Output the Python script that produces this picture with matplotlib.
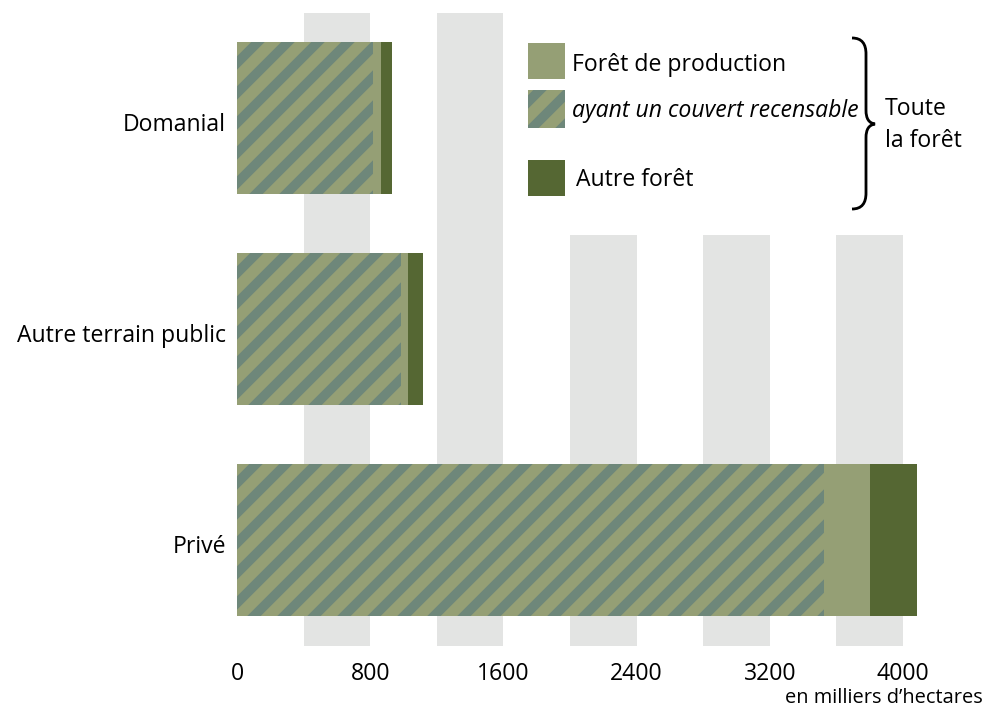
import matplotlib
matplotlib.use("Agg")
import matplotlib.pyplot as plt
from matplotlib.patches import Rectangle, PathPatch
from matplotlib.path import Path
from matplotlib import font_manager
import matplotlib.transforms as mtransforms

# ---------------- data ----------------
categories = ["Domanial", "Autre terrain public", "Privé"]
total_forest = [931, 1117, 4084]        # toute la forêt (incl. autre forêt)
production_forest = [865, 1027, 3802]   # forêt de production
recensable = [817, 985, 3526]           # ayant un couvert recensable
tick_values = [0, 800, 1600, 2400, 3200, 4000]
tick_labels = ["0", "800", "1600", "2400", "3200", "4000"]
band_starts = [400, 1200, 2000, 2800, 3600]
band_width = 400
legend_labels = ["Forêt de production", "ayant un couvert recensable", "Autre forêt"]
brace_label = "Toute\nla forêt"
unit_label = "en milliers d\u2019hectares"

# ---------------- style ----------------
W, H, DPI = 986, 707, 180
C_LIGHT = "#959f75"
C_STRIPE = "#6e877a"
C_DARK = "#556733"
C_GRAY = "#e3e4e3"

avail = {f.name for f in font_manager.fontManager.ttflist}
family = "Open Sans" if "Open Sans" in avail else "DejaVu Sans"
plt.rcParams["font.family"] = [family, "DejaVu Sans"]
plt.rcParams["hatch.linewidth"] = 3.8

def px2pt(px):
    return px * 72.0 / DPI

FS = px2pt(23)
HATCH = "//"

fig = plt.figure(figsize=(W / DPI, H / DPI), dpi=DPI)
ax_left, ax_right = 237, 237 + 4400 * 666 / 4000
ax_top, ax_bot = 12.5, 645.5
ax = fig.add_axes([ax_left / W, 1 - ax_bot / H, (ax_right - ax_left) / W, (ax_bot - ax_top) / H])
ax.set_xlim(0, 4400)
ax.set_ylim(2.5, -0.5)
for s in ax.spines.values():
    s.set_visible(False)

# gray bands
band_top_frac = [1.0, 1.0, 0.6485, 0.6485, 0.6485]
for x0, yt in zip(band_starts, band_top_frac):
    ax.axvspan(x0, x0 + band_width, ymin=0, ymax=yt, color=C_GRAY, lw=0, zorder=0)

ypos = list(range(len(categories)))
bh = 0.72
ax.barh(ypos, total_forest, height=bh, color=C_DARK, lw=0, zorder=2)
ax.barh(ypos, production_forest, height=bh, color=C_LIGHT, lw=0, zorder=3, left=[2, 2, 2])
ax.barh(ypos, recensable, height=bh, left=[2, 2, 2], facecolor=C_LIGHT, edgecolor=C_STRIPE,
        hatch=HATCH, lw=0, zorder=4)

ax.set_yticks(ypos)
ax.set_yticklabels(categories, fontsize=FS)
ax.set_xticks(tick_values)
ax.set_xticklabels(tick_labels, fontsize=FS)
ax.tick_params(axis="y", length=0, pad=px2pt(11))
ax.tick_params(axis="x", length=0, pad=px2pt(17))
shift = mtransforms.ScaledTranslation(0, -4 / DPI, fig.dpi_scale_trans)
for lab in ax.get_yticklabels():
    lab.set_transform(lab.get_transform() + shift)

fig.text(983 / W, 1 - 698 / H, unit_label, fontsize=px2pt(20), ha="right", va="center")

# legend (manual)
def frect(x, y, w, h, **kw):
    r = Rectangle((x / W, 1 - (y + h) / H), w / W, h / H, transform=fig.transFigure, **kw)
    fig.patches.append(r)

frect(528, 43, 37, 36, facecolor=C_LIGHT, lw=0)
frect(528, 90, 37, 38, facecolor=C_LIGHT, edgecolor=C_STRIPE, hatch=HATCH, lw=0)
frect(528, 160, 37, 36, facecolor=C_DARK, lw=0)
fig.text(572 / W, 1 - 65 / H, legend_labels[0], fontsize=FS, va="center")
fig.text(572 / W, 1 - 111 / H, legend_labels[1], fontsize=FS, va="center", style="italic")
fig.text(576 / W, 1 - 180 / H, legend_labels[2], fontsize=FS, va="center")
fig.text(885 / W, 1 - 125 / H, brace_label, fontsize=FS, va="center", linespacing=1.45)

# brace
pts = [(852, 38), (862, 38), (866, 44), (866, 54), (866, 110),
       (866, 119), (869, 123), (875, 124),
       (869, 125), (866, 129), (866, 138),
       (866, 193), (866, 203), (862, 209), (852, 209)]
codes = [Path.MOVETO, Path.CURVE4, Path.CURVE4, Path.CURVE4, Path.LINETO,
         Path.CURVE4, Path.CURVE4, Path.CURVE4,
         Path.CURVE4, Path.CURVE4, Path.CURVE4,
         Path.LINETO, Path.CURVE4, Path.CURVE4, Path.CURVE4]
verts = [(x / W, 1 - y / H) for x, y in pts]
fig.patches.append(PathPatch(Path(verts, codes), transform=fig.transFigure,
                             facecolor="none", edgecolor="black", lw=px2pt(2.8)))

fig.savefig("out.png", dpi=DPI)
